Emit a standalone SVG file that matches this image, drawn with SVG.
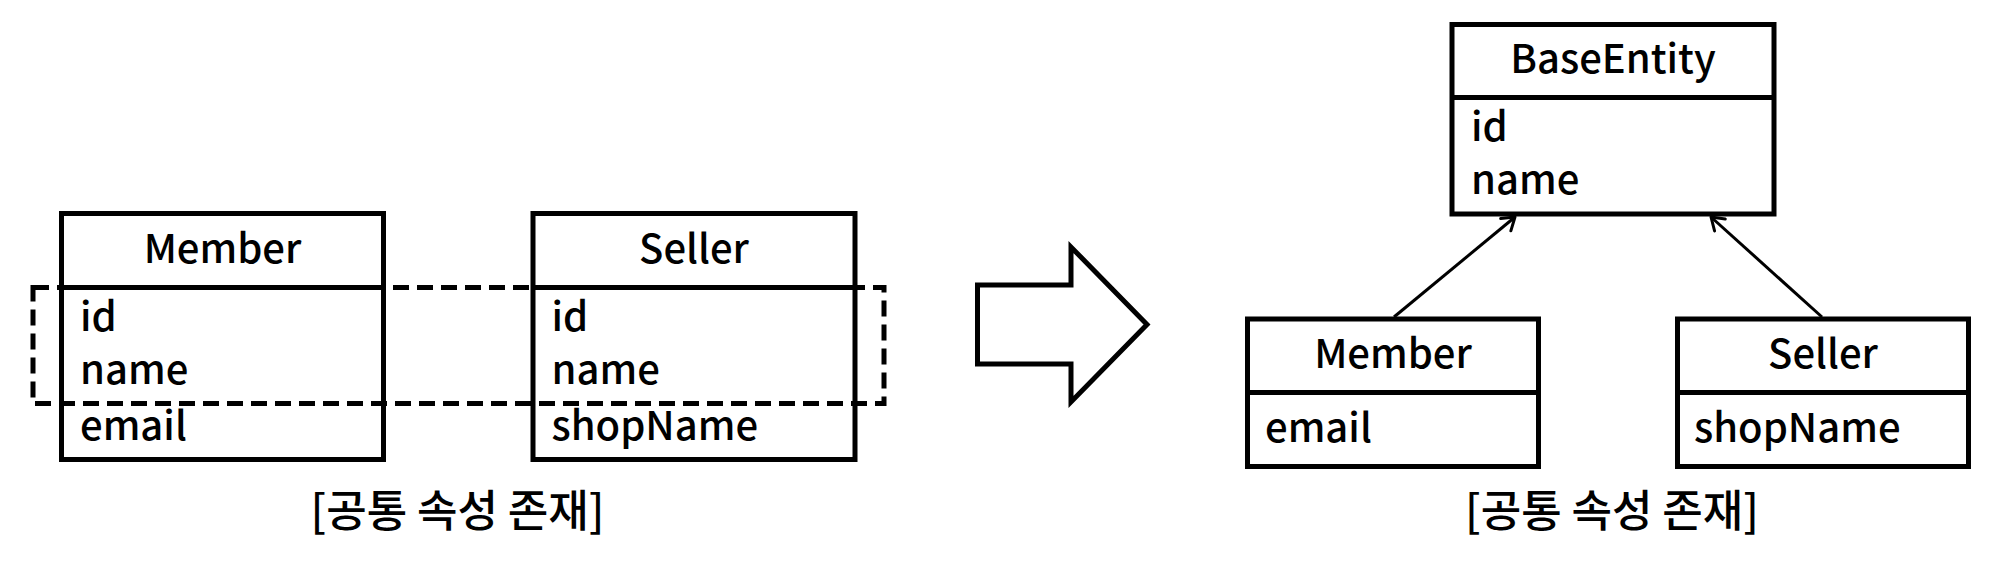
<svg xmlns="http://www.w3.org/2000/svg" width="2000" height="565" viewBox="0 0 2000 565">
<defs>
<style>
.box{fill:#fff;stroke:#000;stroke-width:5}
.div{stroke:#000;stroke-width:5}
.t{font-family:"Noto Sans CJK KR","Noto Sans",sans-serif;font-size:40px;font-weight:500;fill:#000}
.cap{font-size:44px}
.c{text-anchor:middle}
.conn{stroke:#000;stroke-width:3;fill:none}
</style>
<marker id="open" viewBox="0 0 20 20" refX="18" refY="10" markerWidth="20" markerHeight="20" markerUnits="userSpaceOnUse" orient="auto">
<path d="M6,2 L18,10 L6,18" fill="none" stroke="#000" stroke-width="3" stroke-linecap="round" stroke-linejoin="round"/>
</marker>
</defs>
<rect width="2000" height="565" fill="#fff"/>

<g id="left-member">
<rect class="box" x="61.5" y="213.5" width="322" height="246"/>
<line class="div" x1="61.5" y1="287.5" x2="383.5" y2="287.5"/>
<text class="t c" x="222.5" y="263">Member</text>
<text class="t" x="80" y="331">id</text>
<text class="t" x="80" y="384">name</text>
<text class="t" x="80" y="440">email</text>
</g>

<g id="left-seller">
<rect class="box" x="533" y="213.5" width="322" height="246"/>
<line class="div" x1="533" y1="287.5" x2="855" y2="287.5"/>
<text class="t c" x="694" y="263">Seller</text>
<text class="t" x="551.5" y="331">id</text>
<text class="t" x="551.5" y="384">name</text>
<text class="t" x="551.5" y="440">shopName</text>
</g>

<g id="common-attributes">
<rect x="33" y="287.5" width="851" height="116" fill="none" stroke="#000" stroke-width="5" stroke-dasharray="16 8"/>
</g>

<g id="left-caption">
<text class="t cap c" x="457.5" y="527">[공통 속성 존재]</text>
</g>

<g id="transform-arrow">
<polygon points="977.5,285 1071,285 1071,247 1147,324.5 1071,402 1071,364 977.5,364" fill="#fff" stroke="#000" stroke-width="5" stroke-linejoin="miter"/>
</g>

<g id="base-entity">
<rect class="box" x="1452" y="24.5" width="322" height="189.5"/>
<line class="div" x1="1452" y1="97.5" x2="1774" y2="97.5"/>
<text class="t c" x="1613" y="73">BaseEntity</text>
<text class="t" x="1471" y="141">id</text>
<text class="t" x="1471" y="194">name</text>
</g>

<g id="right-member">
<rect class="box" x="1247.5" y="319" width="291" height="147.5"/>
<line class="div" x1="1247.5" y1="392.5" x2="1538.5" y2="392.5"/>
<text class="t c" x="1393" y="368">Member</text>
<text class="t" x="1265" y="442">email</text>
</g>

<g id="right-seller">
<rect class="box" x="1677.5" y="319" width="291" height="147.5"/>
<line class="div" x1="1677.5" y1="392.5" x2="1968.5" y2="392.5"/>
<text class="t c" x="1823" y="368">Seller</text>
<text class="t" x="1694" y="442">shopName</text>
</g>

<g id="connectors">
<line class="conn" x1="1394" y1="317" x2="1515" y2="217" marker-end="url(#open)"/>
<line class="conn" x1="1822" y1="317" x2="1711" y2="217" marker-end="url(#open)"/>
</g>

<g id="right-caption">
<text class="t cap c" x="1612" y="527">[공통 속성 존재]</text>
</g>
</svg>
